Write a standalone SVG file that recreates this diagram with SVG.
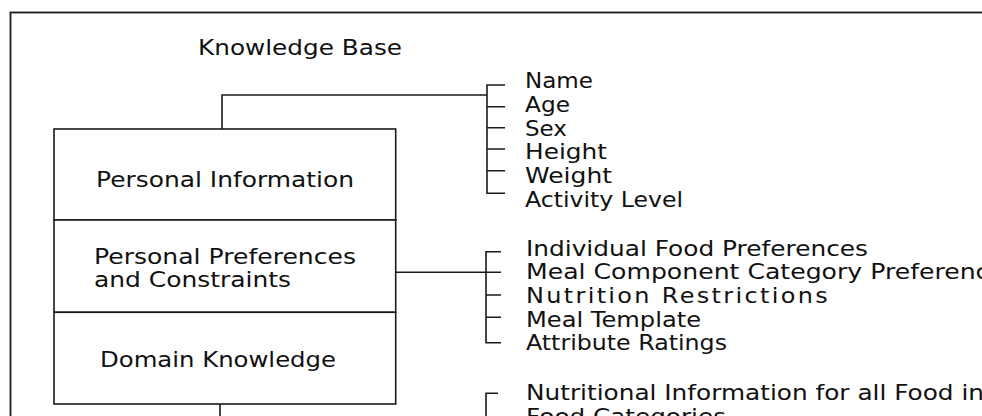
<svg xmlns="http://www.w3.org/2000/svg" width="982" height="416" viewBox="0 0 982 416">
  <style>
    .ln { fill: none; stroke: #1a1a1a; stroke-width: 1.6; }
    .frame { fill: none; stroke: #1a1a1a; stroke-width: 1.8; }
    .box { fill: #ffffff; stroke: #1a1a1a; stroke-width: 1.6; }
    text { font-family: "DejaVu Sans", Verdana, sans-serif; font-size: 20.5px; fill: #111111; }
    .wide { letter-spacing: 2px; }
  </style>

  <rect width="982" height="416" fill="#ffffff"/>

  <!-- outer frame, continuing past the right and bottom edges -->
  <rect class="frame" x="10.5" y="12.5" width="1000" height="500"/>

  <text id="title" x="198" y="55" textLength="204" lengthAdjust="spacingAndGlyphs">Knowledge Base</text>

  <!-- knowledge base sections -->
  <g id="personal-information">
    <rect class="box" x="54" y="129" width="341.7" height="91"/>
    <text x="96" y="186.7" textLength="258" lengthAdjust="spacingAndGlyphs">Personal Information</text>
  </g>
  <g id="personal-preferences">
    <rect class="box" x="54" y="220" width="341.7" height="92.3"/>
    <text x="94" y="264" textLength="262" lengthAdjust="spacingAndGlyphs">Personal Preferences</text>
    <text x="94" y="286.7" textLength="197" lengthAdjust="spacingAndGlyphs">and Constraints</text>
  </g>
  <g id="domain-knowledge">
    <rect class="box" x="54" y="312.3" width="341.7" height="91.7"/>
    <text x="100" y="367.3" textLength="236" lengthAdjust="spacingAndGlyphs">Domain Knowledge</text>
  </g>

  <!-- connectors and brackets -->
  <g id="connectors">
    <path class="ln" d="M222,129 V95 H487"/>
    <path class="ln" d="M505,85 H487 V193.3 H505 M487,106.7 H505 M487,127.7 H505 M487,149 H505 M487,170.7 H505"/>
    <path class="ln" d="M395.7,272.3 H486"/>
    <path class="ln" d="M501,251.7 H486 V342.7 H501 M486,272.3 H501 M486,295 H501 M486,317.3 H501"/>
    <path class="ln" d="M498,393.3 H486 V420"/>
    <path class="ln" d="M220,404 V420"/>
  </g>

  <!-- personal information items -->
  <g id="personal-items">
    <text id="item-name" x="525" y="88.3" textLength="68" lengthAdjust="spacingAndGlyphs">Name</text>
    <text id="item-age" x="525" y="112" textLength="45" lengthAdjust="spacingAndGlyphs">Age</text>
    <text id="item-sex" x="525" y="135.6" textLength="42" lengthAdjust="spacingAndGlyphs">Sex</text>
    <text id="item-height" x="525" y="159.4" textLength="82" lengthAdjust="spacingAndGlyphs">Height</text>
    <text id="item-weight" x="525" y="183.2" textLength="87" lengthAdjust="spacingAndGlyphs">Weight</text>
    <text id="item-activity" x="525" y="207" textLength="158" lengthAdjust="spacingAndGlyphs">Activity Level</text>
  </g>

  <!-- preference items -->
  <g id="preference-items">
    <text id="item-food-pref" x="526" y="255.5" textLength="342" lengthAdjust="spacingAndGlyphs">Individual Food Preferences</text>
    <text id="item-meal-comp" x="526" y="279.2" textLength="492" lengthAdjust="spacingAndGlyphs">Meal Component Category Preferences</text>
    <text id="item-nutrition" class="wide" x="526" y="302.9" textLength="304" lengthAdjust="spacingAndGlyphs">Nutrition Restrictions</text>
    <text id="item-template" x="526" y="326.6" textLength="175" lengthAdjust="spacingAndGlyphs">Meal Template</text>
    <text id="item-ratings" x="526" y="350.3" textLength="201" lengthAdjust="spacingAndGlyphs">Attribute Ratings</text>
  </g>

  <!-- domain knowledge items -->
  <g id="domain-items">
    <text id="item-nutritional" x="526" y="400" textLength="458" lengthAdjust="spacingAndGlyphs">Nutritional Information for all Food in</text>
    <text id="item-categories" x="526" y="423.7" textLength="200" lengthAdjust="spacingAndGlyphs">Food Categories</text>
  </g>
</svg>
